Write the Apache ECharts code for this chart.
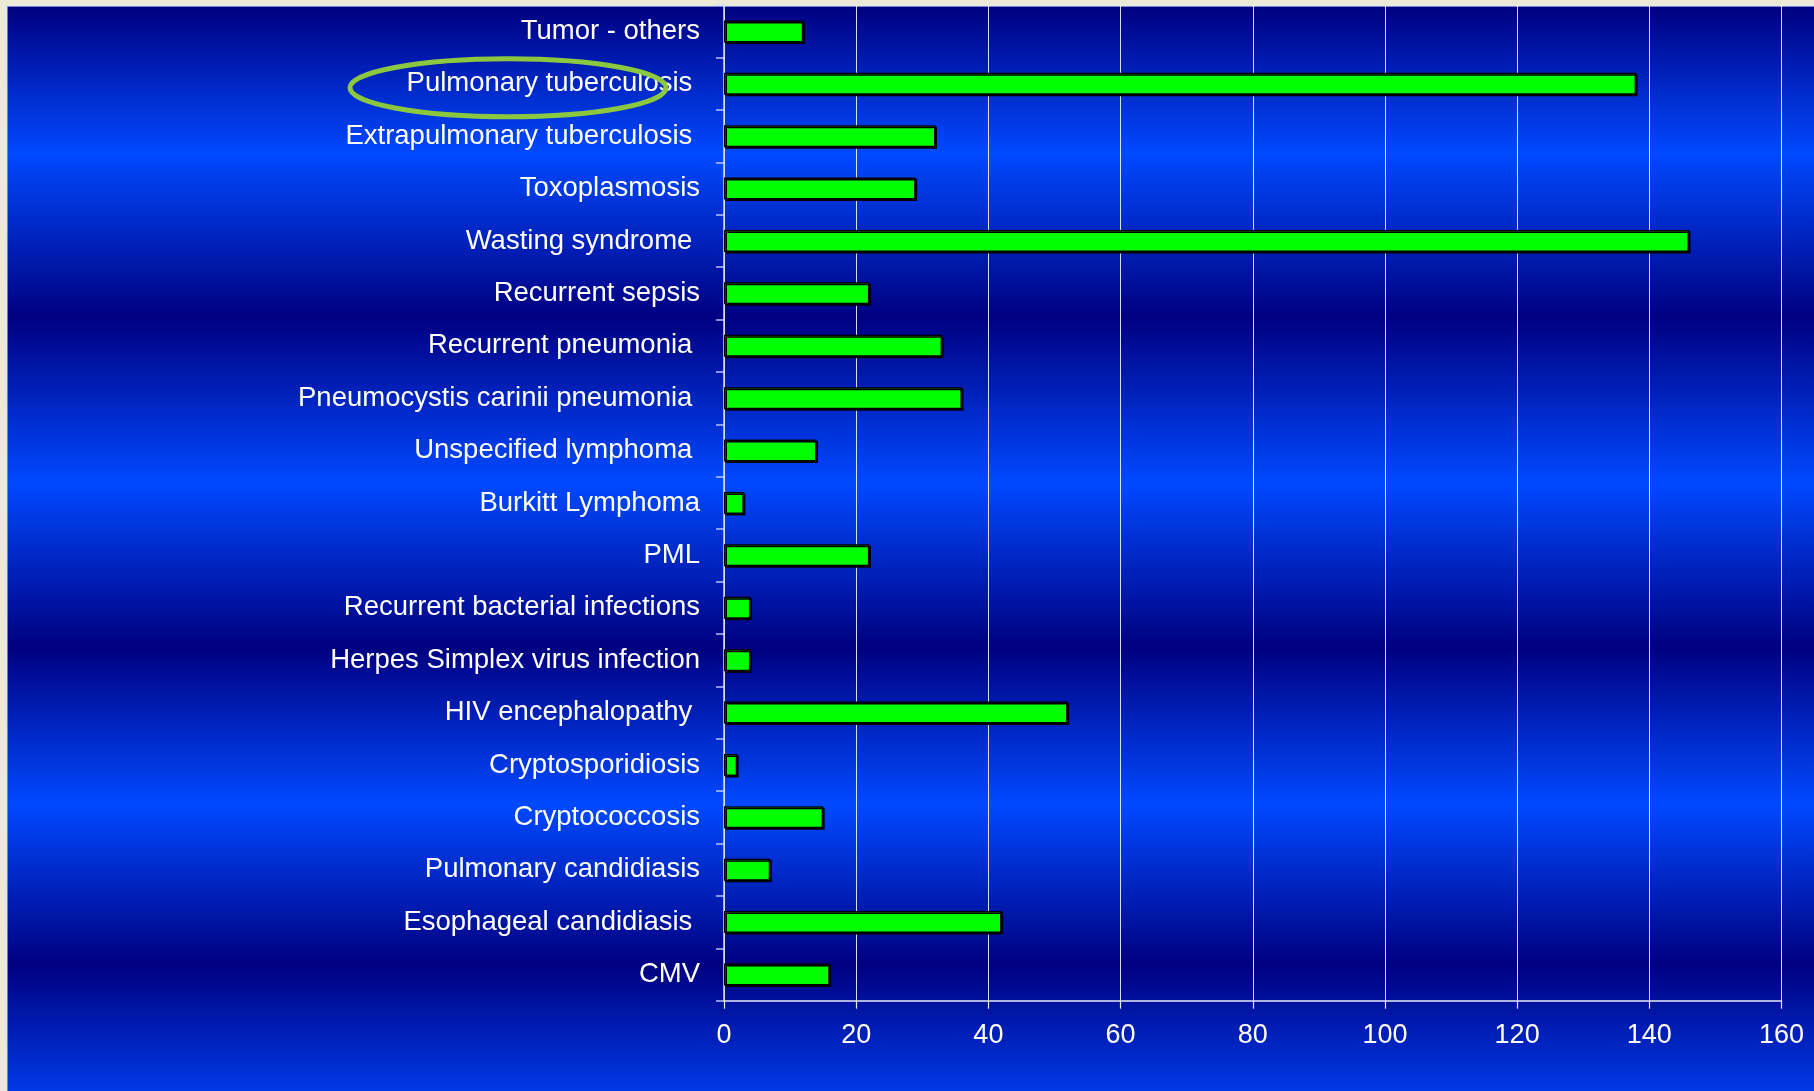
<!DOCTYPE html>
<html>
<head>
<meta charset="utf-8">
<title>AIDS-defining conditions</title>
<script src="https://cdn.jsdelivr.net/npm/echarts@6/dist/echarts.min.js"></script>
<style>
  html, body { margin: 0; padding: 0; background: #ece9d8; }
  #main { width: 1814px; height: 1091px; }
</style>
</head>
<body>
<div id="main"></div>
<script>
// Conditions, listed top to bottom (trailing spaces kept as typed in the source sheet)
const categories = [
  'Tumor - others',
  'Pulmonary tuberculosis ',
  'Extrapulmonary tuberculosis ',
  'Toxoplasmosis',
  'Wasting syndrome ',
  'Recurrent sepsis',
  'Recurrent pneumonia ',
  'Pneumocystis carinii pneumonia ',
  'Unspecified lymphoma ',
  'Burkitt Lymphoma',
  'PML',
  'Recurrent bacterial infections',
  'Herpes Simplex virus infection',
  'HIV encephalopathy ',
  'Cryptosporidiosis',
  'Cryptococcosis',
  'Pulmonary candidiasis',
  'Esophageal candidiasis ',
  'CMV'
];

// Number of cases per condition
const cases = [12, 138, 32, 29, 146, 22, 33, 36, 14, 3, 22, 4, 4, 52, 2, 15, 7, 42, 16];

// Value axis range
const xMin = 0;
const xMax = 160;
const xStep = 20;

// Condition circled on the slide
const highlighted = 'Pulmonary tuberculosis ';

const W = 1814, H = 1091;
const FONT = '"Liberation Sans", Arial, Helvetica, sans-serif';
const DARK = '#000080';
const BRIGHT = '#0049ff';

const chart = echarts.init(document.getElementById('main'), null, { renderer: 'canvas', width: W, height: H });

// Banded slide background: navy / bright blue stripes
const bandStops = [
  [0.000, DARK],
  [0.006, DARK],
  [0.140, BRIGHT],
  [0.291, DARK],
  [0.442, BRIGHT],
  [0.593, DARK],
  [0.737, BRIGHT],
  [0.884, DARK],
  [1.000, '#0039e5']
].map(([offset, color]) => ({ offset, color }));

const option = {
  animation: false,
  textStyle: { fontFamily: FONT },
  graphic: [
    {
      id: 'bg', type: 'rect', z: -100, silent: true,
      shape: { x: 0, y: 0, width: W, height: H },
      style: {
        fill: { type: 'linear', x: 0, y: 0, x2: 0, y2: 1, colorStops: bandStops }
      }
    },
    { id: 'edgeTop', type: 'rect', z: -90, silent: true,
      shape: { x: 0, y: 0, width: W, height: 6 }, style: { fill: '#ece9d8' } },
    { id: 'edgeLeft', type: 'rect', z: -90, silent: true,
      shape: { x: 0, y: 0, width: 7, height: H }, style: { fill: '#ece9d8' } },
    { id: 'edgeTopLine', type: 'rect', z: -89, silent: true,
      shape: { x: 7, y: 6, width: W - 7, height: 1 }, style: { fill: 'rgba(150,160,230,0.8)' } },
    { id: 'edgeLeftLine', type: 'rect', z: -89, silent: true,
      shape: { x: 7, y: 6, width: 1, height: H - 6 }, style: { fill: 'rgba(120,150,255,0.8)' } }
  ],
  grid: { left: 724, right: 32.5, top: 5.2, bottom: 90.3, containLabel: false },
  xAxis: {
    type: 'value',
    min: xMin,
    max: xMax,
    interval: xStep,
    axisLine: { show: true, lineStyle: { color: '#e6e8f6', width: 1.5 } },
    axisTick: { show: true, inside: false, length: 8, lineStyle: { color: '#e6e8f6', width: 1.2 } },
    axisLabel: { color: '#ffffff', fontSize: 27, fontFamily: FONT, margin: 21 },
    splitLine: { show: true, lineStyle: { color: 'rgba(255,255,255,0.85)', width: 1 } }
  },
  yAxis: {
    type: 'category',
    data: categories,
    inverse: true,
    axisLine: { show: true, lineStyle: { color: '#d8dcf2', width: 1.5 } },
    axisTick: { show: true, inside: false, length: 8, lineStyle: { color: 'rgba(215,222,255,0.85)', width: 1.5 } },
    axisLabel: { color: '#ffffff', fontSize: 27.5, fontFamily: FONT, margin: 24, interval: 0, padding: [5, 0, 0, 0] },
    splitLine: { show: false }
  },
  series: [{
    type: 'bar',
    data: cases,
    barWidth: 22,
    itemStyle: {
      color: '#00ff00',
      borderColor: '#000000',
      borderWidth: 1.5,
      shadowColor: '#000000',
      shadowBlur: 0,
      shadowOffsetX: 1.5,
      shadowOffsetY: 1.5
    }
  }]
};

chart.setOption(option);

// Green ring around the highlighted condition label
const ringY = chart.convertToPixel({ yAxisIndex: 0 }, highlighted);
chart.setOption({
  graphic: [{
    id: 'ring', type: 'ellipse', z: 100, silent: true,
    shape: { cx: 508, cy: ringY + 4, rx: 158, ry: 29 },
    style: { fill: 'none', stroke: '#8cc83f', lineWidth: 5 }
  }]
});
</script>
</body>
</html>
